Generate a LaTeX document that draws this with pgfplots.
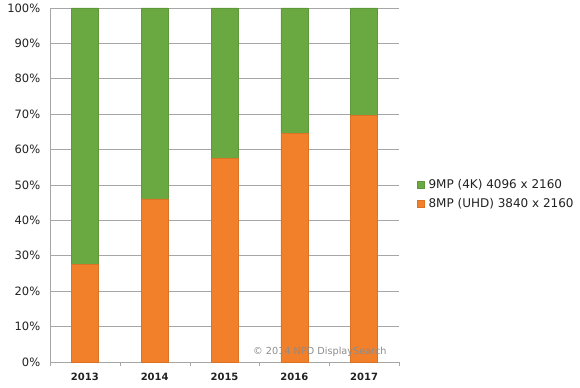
\documentclass[border=0pt]{standalone}
\usepackage{pgfplots}
\pgfplotsset{compat=1.18}
\usepackage{fontspec}
\setmainfont{DejaVu Sans}
\definecolor{cgreen}{HTML}{6AA842}
\definecolor{corange}{HTML}{F2802A}
\definecolor{cgrid}{HTML}{A6A6A6}
\definecolor{ccopy}{HTML}{8C8C8C}
\definecolor{ctext}{HTML}{222222}
\pgfplotsset{sqlegend/.style={legend image code/.code={\fill[##1] (0bp,-3.5bp) rectangle (7bp,3.5bp); \path[draw=none,fill=none] (0bp,0bp) -- (9bp,0bp);}}}
\begin{document}
\begin{tikzpicture}[x=1bp,y=1bp]
\path[use as bounding box] (0,0) rectangle (580,387);
\begin{axis}[
  at={(50bp,25bp)}, anchor=south west,
  scale only axis, width=349bp, height=354bp,
  ybar stacked, bar width=27bp,
  xmin=-0.5, xmax=4.5, ymin=0, ymax=100,
  xtick={0,1,2,3,4},
  xticklabels={2013,2014,2015,2016,2017},
  major x tick style={draw=none},
  minor xtick={-0.5,0.5,1.5,2.5,3.5,4.5},
  minor tick length=4bp,
  x tick style={cgrid},
  tick align=outside,
  ytick={0,10,...,100},
  yticklabel={\pgfmathprintnumber{\tick}\%},
  y tick style={draw=none},
  ymajorgrids, grid style={cgrid, line width=0.8pt},
  axis lines*=left,
  axis line style={cgrid, line width=0.8pt},
  /pgf/number format/assume math mode=true,
  ticklabel style={text=ctext},
  yticklabel style={font=\fontsize{11.5bp}{13bp}\selectfont, xshift=-2bp},
  xticklabel style={font=\fontsize{10bp}{12bp}\selectfont\bfseries, yshift=-3bp},
  reverse legend,
  legend style={at={(rel axis cs:1.052,0.4746)}, anchor=west, draw=none, fill=none,
    font=\fontsize{12bp}{14bp}\selectfont, text=ctext, row sep=4bp,
    legend cell align=left, inner xsep=0pt},
]
\addplot+[sqlegend, fill=corange, draw=corange!90!black, line width=0.4pt] coordinates {(0,27.6) (1,46.1) (2,57.5) (3,64.6) (4,69.6)};
\addplot+[sqlegend, fill=cgreen, draw=cgreen!90!black, line width=0.4pt] coordinates {(0,72.4) (1,53.9) (2,42.5) (3,35.4) (4,30.4)};
\legend{8MP (UHD) 3840 x 2160, 9MP (4K) 4096 x 2160}
\end{axis}
\node[anchor=base west, text=ccopy, font=\fontsize{9.7bp}{12bp}\selectfont, inner sep=0pt] at (253,33) {© 2014 NPD DisplaySearch};
\end{tikzpicture}
\end{document}
